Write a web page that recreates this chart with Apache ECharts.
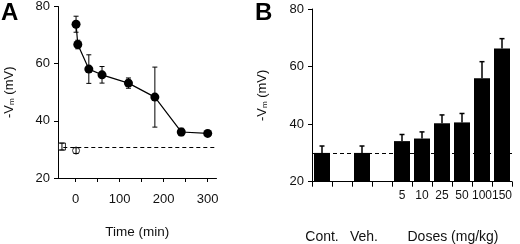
<!DOCTYPE html>
<html>
<head>
<meta charset="utf-8">
<script src="https://cdn.jsdelivr.net/npm/echarts@6/dist/echarts.min.js"></script>
<style>
  html, body { margin: 0; padding: 0; background: #fff; }
  #chartsdiv { width: 520px; height: 244px; }
</style>
</head>
<body>
<div id="chartsdiv"></div>
<script>
// panel A: time course (min, -Vm, sem)
var timeA = [1, 5, 30, 60, 120, 180, 240, 300];
var vmA = [73.8, 66.7, 58.1, 56.1, 53.2, 48.3, 36.1, 35.6];
var errA = [2.8, 1.5, 5.0, 2.9, 1.8, 10.5, 1.3, 0.6];
// panel A controls (open square / open circle)
var ctrlTime = [-31, 1];
var ctrlVm = [31.0, 29.6];
var ctrlErr = [1.2, 1.0];
var baseA = 30.7;
var ticksA = [0, 50, 100, 150, 200, 250, 300];
var labelsA = [0, 100, 200, 300];

// panel B: doses
var catsB = ['Cont.', '', 'Veh.', '', '5', '10', '25', '50', '100', '150'];
var vmB = [30.0, null, 30.0, null, 34.1, 35.0, 40.3, 40.6, 55.9, 66.3];
var errB = [2.4, null, 2.4, null, 2.3, 2.3, 2.9, 3.1, 5.8, 3.4];
var baseB = 29.8;

var font = 'Liberation Sans, Arial, sans-serif';

function errBarsA(params, api) {
    var x = api.value(0), y = api.value(1), e = api.value(2);
    var top = api.coord([x, y + e]);
    var bot = api.coord([x, y - e]);
    var hw = 2.5;
    var st = { stroke: '#000', lineWidth: 1 };
    return {
        type: 'group',
        children: [
            { type: 'line', shape: { x1: top[0], y1: top[1], x2: bot[0], y2: bot[1] }, style: st },
            { type: 'line', shape: { x1: top[0] - hw, y1: top[1], x2: top[0] + hw, y2: top[1] }, style: st },
            { type: 'line', shape: { x1: bot[0] - hw, y1: bot[1], x2: bot[0] + hw, y2: bot[1] }, style: st }
        ]
    };
}

function errBarsB(params, api) {
    var x = api.value(0), y = api.value(1), e = api.value(2);
    var top = api.coord([x, y + e]);
    var mid = api.coord([x, y]);
    var hw = 2.5;
    var st = { stroke: '#000', lineWidth: 1.5 };
    return {
        type: 'group',
        children: [
            { type: 'line', shape: { x1: top[0], y1: top[1], x2: mid[0], y2: mid[1] }, style: st },
            { type: 'line', shape: { x1: top[0] - hw, y1: top[1], x2: top[0] + hw, y2: top[1] }, style: st }
        ]
    };
}

var lineA = [], errDataA = [], ctrlData = [], barB = [], errDataB = [];
for (var i = 0; i < timeA.length; i++) {
    lineA.push([timeA[i], vmA[i]]);
    errDataA.push([timeA[i], vmA[i], errA[i]]);
}
for (var i = 0; i < ctrlTime.length; i++) {
    ctrlData.push([ctrlTime[i], ctrlVm[i], ctrlErr[i]]);
}
for (var i = 0; i < catsB.length; i++) {
    barB.push(vmB[i]);
    if (vmB[i] != null) errDataB.push([i, vmB[i], errB[i]]);
}

var axisLine = { show: true, onZero: false, lineStyle: { color: '#000', width: 1 } };
var axisTick = { show: true, inside: false, length: 4, lineStyle: { color: '#000', width: 1 } };
var labelStyle = { color: '#111', fontSize: 13, fontFamily: font };
var yName = '-V{m|m} (mV)';
var yNameStyle = {
    color: '#111', fontSize: 13, fontFamily: font,
    rich: { m: { fontSize: 8, fontFamily: font, color: '#111', padding: [6, 0, 0, 0] } }
};

var myChart = echarts.init(document.getElementById('chartsdiv'));
var option = {
    animation: false,
    backgroundColor: '#fff',
    grid: [
        { left: 58, right: 303.5, top: 6, bottom: 62.7 },
        { left: 312, right: 8, top: 9, bottom: 62.3 }
    ],
    xAxis: [
        {
            gridIndex: 0, type: 'value', min: -40, max: 320,
            axisLine: axisLine,
            axisTick: { show: true, length: 4, customValues: ticksA, lineStyle: { color: '#000', width: 1 } },
            splitLine: { show: false },
            axisLabel: {
                color: '#111', fontSize: 13, fontFamily: font, margin: 15,
                customValues: labelsA
            },
            name: 'Time (min)', nameLocation: 'middle', nameGap: 47,
            nameTextStyle: { color: '#111', fontSize: 13.5, fontFamily: font }
        },
        {
            gridIndex: 1, type: 'category', data: catsB,
            axisLine: axisLine,
            axisTick: { show: true, length: 5, interval: 0, lineStyle: { color: '#000', width: 1 } },
            axisLabel: {
                color: '#111', fontSize: 12, fontFamily: font, margin: 8, interval: 0,
                formatter: function (v, idx) { return idx >= 4 ? v : ''; }
            }
        }
    ],
    yAxis: [
        {
            gridIndex: 0, type: 'value', min: 20, max: 80, interval: 20,
            axisLine: axisLine, axisTick: axisTick, splitLine: { show: false },
            axisLabel: labelStyle,
            name: yName, nameLocation: 'middle', nameGap: 42, nameRotate: 90,
            nameTextStyle: yNameStyle
        },
        {
            gridIndex: 1, type: 'value', min: 20, max: 80, interval: 20,
            axisLine: axisLine, axisTick: axisTick, splitLine: { show: false },
            axisLabel: labelStyle,
            name: yName, nameLocation: 'middle', nameGap: 43, nameRotate: 90,
            nameTextStyle: yNameStyle
        }
    ],
    series: [
        {
            type: 'line', xAxisIndex: 0, yAxisIndex: 0, data: lineA,
            symbol: 'circle', symbolSize: 9,
            itemStyle: { color: '#000' },
            lineStyle: { color: '#000', width: 1.2 },
            z: 3,
            markLine: {
                silent: true, symbol: 'none', label: { show: false },
                lineStyle: { color: '#000', type: [4, 3], width: 1 },
                data: [[{ coord: [-28, baseA] }, { coord: [320, baseA] }]]
            }
        },
        {
            type: 'custom', xAxisIndex: 0, yAxisIndex: 0, data: errDataA,
            renderItem: errBarsA, z: 2
        },
        {
            type: 'scatter', xAxisIndex: 0, yAxisIndex: 0,
            data: [ctrlData[0]], symbol: 'rect', symbolSize: 7,
            itemStyle: { color: '#fff', borderColor: '#000', borderWidth: 1 }, z: 4
        },
        {
            type: 'scatter', xAxisIndex: 0, yAxisIndex: 0,
            data: [ctrlData[1]], symbol: 'circle', symbolSize: 7,
            itemStyle: { color: '#fff', borderColor: '#000', borderWidth: 1 }, z: 4
        },
        {
            type: 'custom', xAxisIndex: 0, yAxisIndex: 0, data: ctrlData,
            renderItem: errBarsA, z: 5
        },
        {
            type: 'bar', xAxisIndex: 1, yAxisIndex: 1, data: barB,
            barCategoryGap: '20%', itemStyle: { color: '#000' }, z: 3,
            markLine: {
                silent: true, symbol: 'none', label: { show: false },
                lineStyle: { color: '#000', type: [4, 3], width: 1 },
                data: [{ yAxis: baseB }]
            }
        },
        {
            type: 'custom', xAxisIndex: 1, yAxisIndex: 1, data: errDataB,
            renderItem: errBarsB, z: 4
        }
    ],
    graphic: [
        { type: 'text', left: 1, top: 1, style: { text: 'A', fontSize: 24, fontWeight: 'bold', fontFamily: font, fill: '#000' } },
        { type: 'text', left: 255, top: 1, style: { text: 'B', fontSize: 24, fontWeight: 'bold', fontFamily: font, fill: '#000' } },
        { type: 'text', x: 322, y: 237, style: { text: 'Cont.', fontSize: 14, fontFamily: font, fill: '#111', align: 'center', verticalAlign: 'middle' } },
        { type: 'text', x: 364, y: 237, style: { text: 'Veh.', fontSize: 14, fontFamily: font, fill: '#111', align: 'center', verticalAlign: 'middle' } },
        { type: 'text', x: 453, y: 237, style: { text: 'Doses (mg/kg)', fontSize: 14, fontFamily: font, fill: '#111', align: 'center', verticalAlign: 'middle' } }
    ]
};
myChart.setOption(option);
</script>
</body>
</html>
